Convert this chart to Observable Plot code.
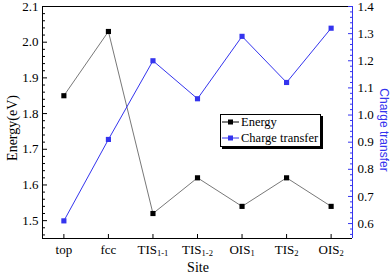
<!DOCTYPE html>
<html><head><meta charset="utf-8">
<script src="https://cdn.jsdelivr.net/npm/d3@7"></script>
<script src="https://cdn.jsdelivr.net/npm/@observablehq/plot@0.6"></script>
<style>
body{margin:0;background:#fff;}
#wrap{position:relative;width:392px;height:276px;overflow:hidden;}
.ttl{position:absolute;white-space:nowrap;line-height:1;}
.legend{position:absolute;left:220px;top:114px;width:99px;height:31px;border:1px solid #000;background:#fff;box-shadow:2px 2px 0 #000;font-family:'Liberation Serif','Times New Roman',serif;font-size:12.5px;color:#000;}
.legend .row{position:absolute;left:1px;height:14px;display:flex;align-items:center;}
.legend svg{display:block;margin-right:2px;}
</style></head><body><div id="wrap"></div>
<script>
const sites = ["top","fcc","TIS1-1","TIS1-2","OIS1","TIS2","OIS2"];
const energy = [1.85,2.03,1.52,1.62,1.54,1.62,1.54];
const charge = [0.61,0.91,1.20,1.06,1.29,1.12,1.32];
const energyTicks = [1.5,1.6,1.7,1.8,1.9,2.0,2.1];
const chargeTicks = [0.6,0.7,0.8,0.9,1.0,1.1,1.2,1.3,1.4];
const energyDomain = [1.45, 2.1];
const chargeDomain = [0.545, 1.4];

const serif = "'Liberation Serif', 'Times New Roman', serif";
const blue = "#3434ee";
const toE = d3.scaleLinear().domain(chargeDomain).range(energyDomain);
const data = sites.map((s,i)=>({i, site:s, energy:energy[i], charge:charge[i]}));
const minorE = d3.range(1.46, 2.101, 0.02).filter(v=>!energyTicks.some(t=>Math.abs(t-v)<1e-6));
const minorC = d3.range(0.56, 1.401, 0.02).filter(v=>!chargeTicks.some(t=>Math.abs(t-v)<1e-6));
const xIdx = d3.range(sites.length);

const plot = Plot.plot({
  width: 392, height: 276,
  marginLeft: 42, marginRight: 40, marginTop: 6, marginBottom: 38,
  style: {fontFamily: serif, fontSize: "13px", color: "#000", background: "#fff"},
  x: {type: "linear", domain: [-0.48, 6.48], axis: null},
  y: {domain: energyDomain, axis: null},
  marks: [
    Plot.ruleY([energyDomain[0]], {stroke: "#000"}),
    Plot.ruleY([energyDomain[1]], {stroke: "#000"}),
    Plot.ruleX([-0.48], {stroke: "#000"}),
    Plot.ruleX([6.48], {stroke: blue}),
    Plot.axisY(energyTicks, {anchor: "left", tickSize: -5, tickPadding: 9, tickFormat: d3.format(".1f"), fontSize: 13, fontFamily: serif, label: null}),
    Plot.axisY(minorE, {anchor: "left", tickSize: -3, tickFormat: () => "", label: null}),
    Plot.axisY(chargeTicks.map(toE), {anchor: "right", tickSize: -5, tickPadding: 10, stroke: blue, fill: "#000", tickFormat: d => toE.invert(d).toFixed(1), fontSize: 13, fontFamily: serif, label: null}),
    Plot.axisY(minorC.map(toE), {anchor: "right", tickSize: -3, stroke: blue, tickFormat: () => "", label: null}),
    Plot.axisX(xIdx, {anchor: "bottom", tickSize: -4, tickPadding: 10, tickFormat: i => sites[i], fontSize: 13, fontFamily: serif, label: null}),
    Plot.line(data, {x: "i", y: "energy", stroke: "#787878", strokeWidth: 1}),
    Plot.line(data, {x: "i", y: d => toE(d.charge), stroke: blue, strokeWidth: 1}),
    Plot.dot(data, {x: "i", y: "energy", symbol: "square", r: 2.9, fill: "#000", stroke: "none"}),
    Plot.dot(data, {x: "i", y: d => toE(d.charge), symbol: "square", r: 2.9, fill: blue, stroke: "none"})
  ]
});

// subscripts in site labels
plot.querySelectorAll('g[aria-label="x-axis tick label"] text').forEach(t => {
  const s = t.textContent;
  const m = s.match(/^([A-Za-z]+)(.*)$/);
  if (m && m[2] && m[1] !== "top" && m[1] !== "fcc") {
    t.textContent = "";
    t.appendChild(document.createTextNode(m[1]));
    const sub = document.createElementNS("http://www.w3.org/2000/svg", "tspan");
    sub.setAttribute("font-size", "8.5");
    sub.setAttribute("dy", "2");
    sub.textContent = m[2];
    t.appendChild(sub);
  }
});

const wrap = document.getElementById("wrap");
wrap.appendChild(plot);

function title(text, css) {
  const d = document.createElement("div");
  d.className = "ttl";
  d.textContent = text;
  Object.assign(d.style, css);
  wrap.appendChild(d);
}
title("Site", {left: "198px", top: "268px", transform: "translate(-50%,-50%)", fontFamily: serif, fontSize: "14px"});
title("Energy(eV)", {left: "13px", top: "128px", transform: "translate(-50%,-50%) rotate(-90deg)", fontFamily: serif, fontSize: "14px"});
title("Charge transfer", {left: "384px", top: "130px", transform: "translate(-50%,-50%) rotate(90deg)", fontFamily: "'Liberation Sans', Arial, sans-serif", fontSize: "12px", color: blue});

const legendItems = [{name: "Energy", line: "#000", mark: "#000"}, {name: "Charge transfer", line: blue, mark: blue}];
const lg = document.createElement("div");
lg.className = "legend";
legendItems.forEach((it, k) => {
  const row = document.createElement("div");
  row.className = "row";
  row.style.top = (k === 0 ? 0 : 16) + "px";
  row.innerHTML = `<svg width="17" height="8"><line x1="0" y1="4" x2="17" y2="4" stroke="${it.line}"/><rect x="6" y="1.5" width="5" height="5" fill="${it.mark}"/></svg><span>${it.name}</span>`;
  lg.appendChild(row);
});
wrap.appendChild(lg);
</script></body></html>
